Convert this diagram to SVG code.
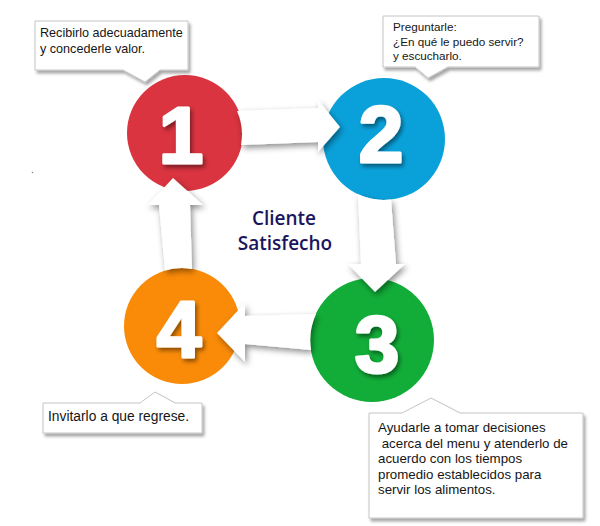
<svg xmlns="http://www.w3.org/2000/svg" width="600" height="526" viewBox="0 0 600 526">
<defs>
<filter id="arrowShadow" x="-30%" y="-30%" width="160%" height="160%">
<feDropShadow dx="2" dy="3" stdDeviation="3" flood-color="#000" flood-opacity="0.45"/>
</filter>
<filter id="boxShadow" x="-10%" y="-20%" width="130%" height="150%">
<feDropShadow dx="2" dy="3" stdDeviation="1.8" flood-color="#000" flood-opacity="0.35"/>
</filter>
<filter id="numShadow" x="-30%" y="-30%" width="160%" height="160%">
<feDropShadow dx="2" dy="3" stdDeviation="2" flood-color="#000" flood-opacity="0.45"/>
</filter>
</defs>
<style>
.bg{fill:#ffffff}
.arrow{fill:#ffffff;filter:url(#arrowShadow)}
.num{font-family:"Liberation Sans",Arial,sans-serif;font-weight:bold;font-size:80px;fill:#ffffff;stroke:#ffffff;stroke-width:3;stroke-linejoin:round;text-anchor:middle;filter:url(#numShadow)}
.box{fill:#ffffff;stroke:#c4c4c4;stroke-width:1;filter:url(#boxShadow)}
.lbl{font-family:"Liberation Sans",Arial,sans-serif;font-size:13px;fill:#161616;white-space:pre}
.center{font-family:"Open Sans","Liberation Sans",sans-serif;font-weight:600;font-size:19px;fill:#1a165e;text-anchor:middle}
</style>
<rect class="bg" x="0" y="0" width="600" height="526"/>
<circle cx="32.5" cy="172.5" r="0.8" fill="#8a8a8a"/>

<g id="node1">
<circle cx="185" cy="133" r="58" fill="#d9343f"/>
<text class="num" x="181" y="163">1</text>
</g>
<g id="node2">
<circle cx="384" cy="139" r="61" fill="#0aa1da"/>
<text class="num" x="381" y="162">2</text>
</g>
<g id="node3">
<circle cx="372" cy="340" r="62" fill="#12ad38"/>
<text class="num" x="377" y="372">3</text>
</g>
<g id="node4">
<circle cx="182" cy="326" r="58" fill="#fa8b08"/>
<text class="num" x="179" y="357">4</text>
</g>

<g id="connectors">
<path class="arrow" d="M237,111 L318,108 L318,100 L340,127 L318,152 L318,142 L241,145 A57 57 0 0 0 237,111 Z"/>
<path class="arrow" d="M391,199.6 L396,264 L405,264 L375,292 L348,264 L361,264 L358,194.2 A61 61 0 0 0 391,199.6 Z"/>
<path class="arrow" d="M316,314 L245,316 L245,303 L217,333 L245,362 L245,344 L311,350 A62 62 0 0 1 316,314 Z"/>
<path class="arrow" d="M165,270.5 L159,205 L148,205 L173,178 L203,205 L190,205 L192,269 A58 58 0 0 0 165,270.5 Z"/>
</g>

<g id="center">
<text class="center" x="284" y="225">Cliente</text>
<text class="center" x="285" y="250">Satisfecho</text>
</g>

<g id="callout1">
<path class="box" d="M35,21 H188 V70 H160 L145,82 L123,70 H35 Z"/>
<text class="lbl" x="40" y="37" style="font-size:12.6px">Recibirlo adecuadamente</text>
<text class="lbl" x="40" y="53" style="font-size:12.6px">y concederle valor.</text>
</g>
<g id="callout2">
<path class="box" d="M383,16 H539 V67 H448 L428,78 L415,67 H383 Z"/>
<text class="lbl" x="393" y="31" style="font-size:11.7px">Preguntarle:</text>
<text class="lbl" x="393" y="45.5" style="font-size:11.7px">¿En qué le puedo servir?</text>
<text class="lbl" x="393" y="60" style="font-size:11.7px">y escucharlo.</text>
</g>
<g id="callout3">
<path class="box" d="M369,413 H402 L431,398 L460,413 H583 V518 H369 Z"/>
<text class="lbl" x="378" y="432" style="font-size:13.3px">Ayudarle a tomar decisiones</text>
<text class="lbl" x="378" y="447.5" style="font-size:13.3px"> acerca del menu y atenderlo de</text>
<text class="lbl" x="378" y="463" style="font-size:13.3px">acuerdo con los tiempos</text>
<text class="lbl" x="378" y="478.5" style="font-size:13.3px">promedio establecidos para</text>
<text class="lbl" x="378" y="494" style="font-size:13.3px">servir los alimentos.</text>
</g>
<g id="callout4">
<path class="box" d="M43,403 H140 L155,392 L175,403 H202 V433 H43 Z"/>
<text class="lbl" x="48" y="421" style="font-size:13.8px">Invitarlo a que regrese.</text>
</g>
</svg>
